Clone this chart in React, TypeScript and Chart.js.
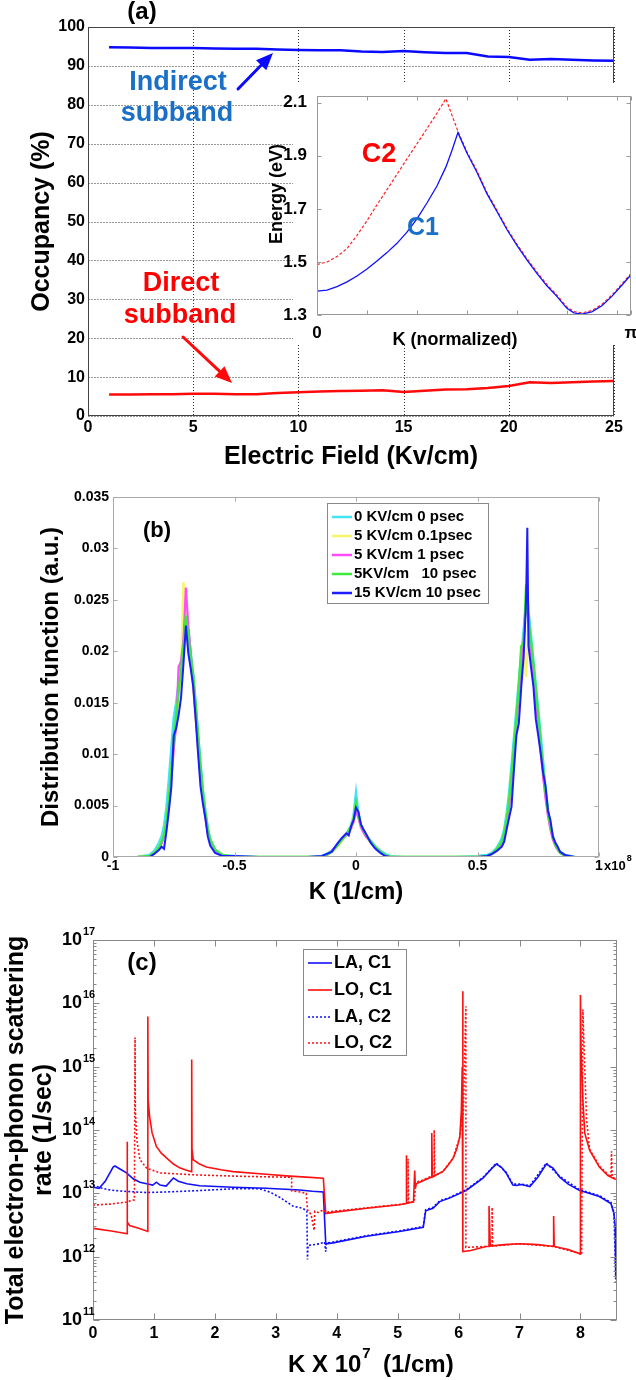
import React, { useEffect, useRef } from 'react';
import { Chart, registerables } from 'chart.js';

Chart.register(...registerables);

const FONT = '"Liberation Sans", Arial, Helvetica, sans-serif';
Chart.defaults.font.family = FONT;
const f = (size: number, lh = 1) => ({ family: FONT, size, weight: 'bold' as const, lineHeight: lh });

// ---------------- Panel (a) data ----------------
const fieldA = [1, 2, 3, 4, 5, 6, 7, 8, 9, 10, 11, 12, 13, 14, 15, 16, 17, 18, 19, 20, 21, 22, 23, 24, 25];
const indirectA = [94.8, 94.7, 94.6, 94.6, 94.6, 94.5, 94.4, 94.4, 94.2, 94.1, 94.0, 94.0, 93.7, 93.6, 93.8, 93.5, 93.3, 93.3, 92.4, 92.3, 91.6, 91.8, 91.6, 91.4, 91.3];
const directA = [5.5, 5.5, 5.6, 5.6, 5.7, 5.7, 5.6, 5.6, 5.9, 6.1, 6.3, 6.4, 6.5, 6.6, 6.2, 6.5, 6.8, 6.9, 7.2, 7.7, 8.7, 8.5, 8.7, 8.9, 9.0];
const ticksAX = [0, 5, 10, 15, 20, 25];
const ticksAY = [0, 10, 20, 30, 40, 50, 60, 70, 80, 90, 100];

// ---------------- Inset data ----------------
const kInset = [0, 0.1, 0.2, 0.3, 0.4, 0.5, 0.6, 0.7, 0.8, 0.9, 1.0, 1.1, 1.2, 1.29, 1.35, 1.41, 1.5, 1.6, 1.7, 1.8, 1.9, 2.0, 2.1, 2.2, 2.3, 2.4, 2.5, 2.57, 2.65, 2.75, 2.85, 2.95, 3.05, 3.1416];
const energyC1 = [1.39, 1.394, 1.407, 1.425, 1.447, 1.473, 1.503, 1.535, 1.57, 1.612, 1.662, 1.722, 1.786, 1.858, 1.92, 1.987, 1.91, 1.838, 1.757, 1.69, 1.622, 1.562, 1.508, 1.457, 1.41, 1.37, 1.325, 1.308, 1.303, 1.312, 1.335, 1.37, 1.412, 1.452];
const energyC2 = [1.49, 1.5, 1.52, 1.55, 1.6, 1.655, 1.715, 1.772, 1.83, 1.888, 1.945, 2.002, 2.06, 2.115, 2.053, 1.992, 1.915, 1.843, 1.762, 1.695, 1.627, 1.567, 1.513, 1.462, 1.415, 1.375, 1.33, 1.313, 1.308, 1.317, 1.34, 1.375, 1.417, 1.457];
const ticksInsetX = [0, 0.5, 1, 1.5, 2, 2.5, 3, Math.PI];
const ticksInsetY = [1.3, 1.5, 1.7, 1.9, 2.1];

// ---------------- Panel (b) data ----------------
const kB = [
  -0.90, -0.85, -0.83, -0.81, -0.80,
  -0.79, -0.78, -0.77, -0.76, -0.75, -0.74, -0.73, -0.72, -0.71, -0.70,
  -0.69, -0.68, -0.67, -0.66, -0.65, -0.64, -0.63, -0.62, -0.61, -0.60,
  -0.58, -0.55, -0.50, -0.40, -0.30, -0.20,
  -0.14, -0.12, -0.10, -0.08, -0.06, -0.04,
  -0.03, -0.02, -0.01, 0, 0.01, 0.02, 0.03,
  0.04, 0.06, 0.08, 0.10, 0.12, 0.14,
  0.20, 0.30, 0.40, 0.50, 0.54, 0.56, 0.58,
  0.60, 0.61, 0.62, 0.63, 0.64, 0.65, 0.66, 0.67, 0.68, 0.69, 0.70,
  0.705, 0.71, 0.72, 0.73, 0.74, 0.75, 0.76, 0.77,
  0.78, 0.79, 0.80, 0.81, 0.82, 0.83, 0.84,
  0.86, 0.88, 0.90,
];
const distCyan = [
  0, 0.0002, 0.0006, 0.0014, 0.002,
  0.003, 0.0048, 0.0075, 0.0105, 0.0135, 0.015, 0.0168, 0.019, 0.021, 0.024,
  0.022, 0.0198, 0.0175, 0.0148, 0.0118, 0.009, 0.0064, 0.0044, 0.0027, 0.0017,
  0.0007, 0.0002, 0.0001, 0, 0, 0,
  0.0001, 0.0003, 0.0006, 0.001, 0.0016, 0.0022,
  0.0026, 0.0031, 0.004, 0.0062, 0.0042, 0.0031, 0.0026,
  0.0021, 0.0016, 0.001, 0.0006, 0.0003, 0.0001,
  0, 0, 0, 0.0001, 0.0002, 0.0004, 0.0009,
  0.0018, 0.0027, 0.0042, 0.0062, 0.0088, 0.0115, 0.0142, 0.017, 0.0195, 0.022, 0.0245,
  0.0255, 0.0238, 0.0215, 0.019, 0.0166, 0.0142, 0.0118, 0.0092,
  0.0066, 0.0046, 0.003, 0.002, 0.0013, 0.0008, 0.0005,
  0.0002, 0.0001, 0,
];
const distYellow = [
  0, 0.0001, 0.0004, 0.001, 0.0015,
  0.0022, 0.0035, 0.0055, 0.008, 0.011, 0.013, 0.0155, 0.018, 0.0267, 0.0232,
  0.021, 0.019, 0.0165, 0.0135, 0.0105, 0.008, 0.0058, 0.004, 0.0024, 0.0015,
  0.0006, 0.0002, 0, 0, 0, 0,
  0, 0.0002, 0.0005, 0.0009, 0.0015, 0.0021,
  0.0025, 0.003, 0.0038, 0.005, 0.004, 0.003, 0.0025,
  0.002, 0.0014, 0.0009, 0.0005, 0.0002, 0,
  0, 0, 0, 0, 0.0001, 0.0003, 0.0007,
  0.0014, 0.0022, 0.0035, 0.0052, 0.0075, 0.0102, 0.013, 0.0158, 0.0185, 0.0205, 0.0175,
  0.02, 0.0225, 0.0205, 0.018, 0.0155, 0.013, 0.0105, 0.0082,
  0.006, 0.0042, 0.0028, 0.0018, 0.0011, 0.0007, 0.0004,
  0.0002, 0, 0,
];
const distMagenta = [
  0, 0.0001, 0.0004, 0.0009, 0.0013,
  0.002, 0.0032, 0.005, 0.0075, 0.0105, 0.0128, 0.0185, 0.019, 0.021, 0.0262,
  0.0225, 0.0198, 0.0168, 0.0138, 0.0108, 0.0078, 0.0055, 0.0038, 0.0023, 0.0014,
  0.0006, 0.0001, 0, 0, 0, 0,
  0, 0.0002, 0.0006, 0.0011, 0.0017, 0.0021,
  0.0024, 0.0028, 0.0034, 0.0045, 0.0038, 0.0029, 0.0024,
  0.002, 0.0015, 0.0009, 0.0005, 0.0002, 0,
  0, 0, 0, 0, 0.0001, 0.0003, 0.0007,
  0.0013, 0.002, 0.0032, 0.0048, 0.0072, 0.0098, 0.0128, 0.0158, 0.0178, 0.021, 0.025,
  0.0242, 0.0228, 0.02, 0.0175, 0.015, 0.0128, 0.0102, 0.0078,
  0.0057, 0.004, 0.0027, 0.0017, 0.0011, 0.0007, 0.0004,
  0.0001, 0, 0,
];
const distGreen = [
  0, 0.0001, 0.0004, 0.001, 0.0015,
  0.0022, 0.0036, 0.0058, 0.0085, 0.0115, 0.0138, 0.016, 0.0182, 0.0205, 0.0235,
  0.0215, 0.0195, 0.0178, 0.015, 0.012, 0.009, 0.0064, 0.0044, 0.0028, 0.0017,
  0.0007, 0.0002, 0, 0, 0, 0,
  0, 0.0002, 0.0005, 0.001, 0.0016, 0.0022,
  0.0026, 0.003, 0.0037, 0.0053, 0.0041, 0.0031, 0.0027,
  0.0022, 0.0015, 0.001, 0.0005, 0.0002, 0,
  0, 0, 0, 0, 0.0001, 0.0003, 0.0008,
  0.0015, 0.0024, 0.0037, 0.0055, 0.008, 0.0108, 0.0136, 0.0166, 0.0205, 0.0208, 0.0265,
  0.024, 0.0232, 0.021, 0.0188, 0.0163, 0.0138, 0.0112, 0.0087,
  0.0063, 0.0044, 0.003, 0.002, 0.0012, 0.0008, 0.0004,
  0.0001, 0, 0,
];
const distBlue = [
  0, 0, 0.0003, 0.0007, 0.001,
  0.0008, 0.0025, 0.0045, 0.0068, 0.0118, 0.0125, 0.0138, 0.0155, 0.0188, 0.0225,
  0.0198, 0.0183, 0.0166, 0.0135, 0.0101, 0.0069, 0.0052, 0.0038, 0.002, 0.0011,
  0.0004, 0.0001, 0.0001, 0, 0, 0,
  0.0001, 0.0003, 0.0005, 0.0012, 0.0018, 0.0023,
  0.0021, 0.003, 0.0036, 0.0048, 0.0044, 0.0032, 0.0027,
  0.0023, 0.0014, 0.0008, 0.0004, 0.0001, 0,
  0, 0, 0, 0, 0.0001, 0.0003, 0.0006,
  0.001, 0.0015, 0.0027, 0.0038, 0.0049, 0.0085, 0.0118, 0.013, 0.0165, 0.0195, 0.025,
  0.032, 0.0205, 0.0185, 0.0166, 0.0134, 0.0118, 0.0101, 0.0082,
  0.0069, 0.0045, 0.0036, 0.002, 0.0014, 0.001, 0.0005,
  0.0002, 0.0001, 0,
];
const legendB = ['0 KV/cm 0 psec', '5 KV/cm 0.1psec', '5 KV/cm 1 psec', '5KV/cm   10 psec', '15 KV/cm 10 psec'];
const colorsB = ['#44e4f2', '#f6f66a', '#ff4cff', '#3ee83e', '#1c1cff'];
const ticksBX = [-1, -0.5, 0, 0.5, 1];
const ticksBY = [0, 0.005, 0.01, 0.015, 0.02, 0.025, 0.03, 0.035];

// ---------------- Panel (c) data ----------------
const kLAC1 = [
  0, 0.1, 0.2, 0.33, 0.36, 0.45, 0.55, 0.66, 0.77, 0.88,
  0.98, 1.04, 1.1, 1.2, 1.32, 1.4, 1.54, 1.75, 2.3, 2.84,
  3.39, 3.6, 3.78, 3.82, 3.94, 4.49, 5.03, 5.42, 5.46, 5.58,
  5.69, 5.85, 6.13, 6.4, 6.55, 6.62, 6.7, 6.78, 6.89, 6.95,
  7.03, 7.17, 7.3, 7.44, 7.55, 7.66, 7.8, 7.98, 8.31, 8.5,
  8.55, 8.57, 8.58,
];
const rateLAC1 = [
  1.25e13, 1.2e13, 1.55e13, 2.6e13, 2.7e13, 2.4e13, 2.1e13, 1.7e13, 1.5e13, 1.42e13,
  1.35e13, 1.5e13, 1.35e13, 1.3e13, 1.75e13, 1.55e13, 1.42e13, 1.32e13, 1.25e13, 1.2e13,
  1.13e13, 1.08e13, 1.05e13, 1.6e12, 1.65e12, 2.1e12, 2.5e12, 2.9e12, 5.3e12, 5.8e12,
  7.4e12, 8.4e12, 1.12e13, 1.73e13, 2.5e13, 2.9e13, 2.6e13, 2.1e13, 1.35e13, 1.33e13,
  1.38e13, 1.28e13, 1.8e13, 2.9e13, 2.5e13, 1.8e13, 1.4e13, 1.12e13, 8.9e12, 6.9e12,
  4.8e12, 3e12, 5e11,
];
const kLOC1 = [
  0, 0.3, 0.56, 0.56, 0.565, 0.6, 0.75, 0.9, 0.9, 0.905,
  0.93, 0.97, 1.04, 1.12, 1.21, 1.32, 1.43, 1.55, 1.62, 1.62,
  1.625, 1.645, 1.75, 1.86, 2.1, 2.3, 2.84, 3.23, 3.5, 3.78,
  3.82, 3.94, 4.49, 5.03, 5.14, 5.14, 5.15, 5.26, 5.28, 5.29,
  5.3, 5.36, 5.55, 5.56, 5.57, 5.65, 5.74, 5.83, 5.91, 5.97,
  6.02, 6.045, 6.06, 6.07, 6.07, 6.2, 6.45, 6.5, 6.5, 6.52,
  6.75, 7.0, 7.3, 7.56, 7.56, 7.57, 7.8, 8.0, 8.0, 8.01,
  8.04, 8.07, 8.15, 8.31, 8.45, 8.58,
];
const rateLOC1 = [
  2.8e12, 2.55e12, 2.3e12, 6.5e13, 3.5e12, 3.1e12, 2.8e12, 2.5e12, 6.2e15, 3e14,
  1.6e14, 9e13, 5.5e13, 4.3e13, 3.6e13, 2.9e13, 2.5e13, 2.3e13, 2.2e13, 1.3e15,
  5e13, 3.4e13, 2.9e13, 2.6e13, 2.35e13, 2.2e13, 2.0e13, 1.87e13, 1.8e13, 1.73e13,
  4.8e12, 5.0e12, 5.8e12, 6.6e12, 6.9e12, 4e13, 7e12, 7.3e12, 2.3e13, 1.3e13,
  1.4e13, 1.5e13, 1.8e13, 9e13, 1.8e13, 2.0e13, 2.2e13, 2.8e13, 3.6e13, 5e13,
  7.8e13, 2e14, 1e15, 1.55e16, 1.2e12, 1.25e12, 1.45e12, 1.45e12, 6.3e12, 1.47e12,
  1.55e12, 1.6e12, 1.55e12, 1.45e12, 4.4e12, 1.45e12, 1.3e12, 1.1e12, 1.35e16, 2e15,
  3e14, 9e13, 4.8e13, 2.6e13, 1.9e13, 1.65e13,
];
const kLAC2 = [
  0, 0.15, 0.3, 0.55, 0.88, 1.2, 1.7, 2.3, 2.73, 2.9,
  3.07, 3.28, 3.44, 3.51, 3.52, 3.53, 3.72, 3.8, 3.82, 3.83,
  3.94, 4.49, 5.03, 5.42, 5.46, 5.58, 5.69, 5.85, 6.13, 6.4,
  6.62, 6.78, 6.89, 7.03, 7.17, 7.44, 7.66, 7.98, 8.31, 8.5,
  8.55, 8.58,
];
const rateLAC2 = [
  1.35e13, 1.2e13, 1.12e13, 1.07e13, 1.03e13, 1.05e13, 1.1e13, 1.18e13, 1.18e13, 1.05e13,
  8.6e12, 6.3e12, 5.8e12, 5.3e12, 9e11, 1.5e12, 1.6e12, 1.7e12, 1.2e12, 1.65e12,
  1.7e12, 2.15e12, 2.55e12, 3e12, 5.5e12, 6e12, 7.6e12, 8.6e12, 1.15e13, 1.78e13,
  3e13, 2.15e13, 1.4e13, 1.4e13, 1.32e13, 3e13, 1.85e13, 1.15e13, 9.2e12, 7.2e12,
  5e12, 4e11,
];
const kLOC2 = [
  0, 0.3, 0.55, 0.68, 0.69, 0.695, 0.72, 0.77, 0.88, 1.1,
  1.7, 2.5, 3.17, 3.26, 3.26, 3.4, 3.5, 3.52, 3.58, 3.63,
  3.64, 3.7, 3.78, 3.82, 3.94, 4.49, 5.03, 5.17, 5.17, 5.18,
  5.27, 5.3, 5.36, 5.55, 5.6, 5.6, 5.61, 5.74, 5.91, 6.02,
  6.08, 6.1, 6.12, 6.12, 6.45, 6.55, 6.55, 6.56, 7.0, 7.56,
  8.02, 8.04, 8.06, 8.1, 8.15, 8.31, 8.5, 8.51, 8.52, 8.58,
];
const rateLOC2 = [
  6.5e12, 6.8e12, 7.3e12, 7.9e12, 2.9e15, 2e14, 6.9e13, 3.4e13, 2.5e13, 2.1e13,
  1.95e13, 1.85e13, 1.8e13, 1.8e13, 1.1e13, 1.05e13, 1.0e13, 5.5e12, 4.6e12, 2.6e12,
  5.2e12, 5.0e12, 5.5e12, 5.0e12, 5.2e12, 5.9e12, 6.7e12, 7e12, 3.5e13, 7.1e12,
  7.4e12, 1.5e13, 1.55e13, 1.85e13, 1.9e13, 1e14, 1.9e13, 2.2e13, 3.6e13, 7.8e13,
  2e14, 1.5e15, 9e15, 1.4e12, 1.45e12, 1.47e12, 6e12, 1.47e12, 1.6e12, 1.45e12,
  1.1e12, 8e15, 2e15, 1.5e14, 5e13, 2.7e13, 1.8e13, 4.6e13, 1.8e13, 1.7e13,
];
const legendC = ['LA, C1', 'LO, C1', 'LA, C2', 'LO, C2'];
const ticksCX = [0, 1, 2, 3, 4, 5, 6, 7, 8];
const ticksCY = [1e11, 1e12, 1e13, 1e14, 1e15, 1e16, 1e17];

// ---------------- helpers ----------------
const zip = (xs: number[], ys: number[]) => xs.map((x, i) => ({ x, y: ys[i] }));
const fixX = (h: number) => (s: any) => { s.height = h; s.paddingLeft = 0; s.paddingRight = 0; s.paddingTop = 0; s.paddingBottom = 0; };
const fixY = (w: number) => (s: any) => { s.width = w; s.paddingLeft = 0; s.paddingRight = 0; s.paddingTop = 0; s.paddingBottom = 0; };
const setTicks = (vals: number[]) => (s: any) => { s.ticks = vals.map((v) => ({ value: v })); };

type T = { t: string; x: number; y: number; s: number; c?: string; a?: CanvasTextAlign; r?: number };
function drawTexts(ctx: CanvasRenderingContext2D, items: T[]) {
  for (const it of items) {
    ctx.save();
    ctx.translate(it.x, it.y);
    if (it.r) ctx.rotate(it.r);
    ctx.font = `bold ${it.s}px ${FONT}`;
    ctx.fillStyle = it.c || '#000';
    ctx.textAlign = it.a || 'center';
    ctx.textBaseline = 'middle';
    ctx.fillText(it.t, 0, 0);
    ctx.restore();
  }
}
function arrow(ctx: CanvasRenderingContext2D, x1: number, y1: number, x2: number, y2: number, color: string, w: number, head: number) {
  const a = Math.atan2(y2 - y1, x2 - x1);
  const c = Math.cos(a), s = Math.sin(a);
  ctx.save();
  ctx.strokeStyle = color; ctx.fillStyle = color; ctx.lineWidth = w; ctx.lineCap = 'round';
  ctx.beginPath(); ctx.moveTo(x1, y1); ctx.lineTo(x2 - head * 0.8 * c, y2 - head * 0.8 * s); ctx.stroke();
  ctx.beginPath();
  ctx.moveTo(x2, y2);
  ctx.lineTo(x2 - head * c + head * 0.42 * s, y2 - head * s - head * 0.42 * c);
  ctx.lineTo(x2 - head * c - head * 0.42 * s, y2 - head * s + head * 0.42 * c);
  ctx.closePath(); ctx.fill();
  ctx.restore();
}
function drawLegend(ctx: CanvasRenderingContext2D, box: number[], labels: string[], colors: string[], dashes: (number[] | null)[], rows: number[], lx: number[], tx: number, size: number, lw: number) {
  ctx.save();
  ctx.fillStyle = '#fff';
  ctx.fillRect(box[0], box[1], box[2] - box[0], box[3] - box[1]);
  ctx.strokeStyle = '#888'; ctx.lineWidth = 1;
  ctx.strokeRect(box[0] + 0.5, box[1] + 0.5, box[2] - box[0], box[3] - box[1]);
  labels.forEach((lab, i) => {
    ctx.strokeStyle = colors[i]; ctx.lineWidth = lw;
    ctx.setLineDash(dashes[i] || []);
    ctx.beginPath(); ctx.moveTo(lx[0], rows[i]); ctx.lineTo(lx[1], rows[i]); ctx.stroke();
    ctx.setLineDash([]);
    ctx.font = `bold ${size}px ${FONT}`; ctx.fillStyle = '#000'; ctx.textAlign = 'left'; ctx.textBaseline = 'middle';
    ctx.fillText(lab, tx, rows[i]);
  });
  ctx.restore();
}
function gridPlugin(color: string) {
  return {
    id: 'dotgrid',
    beforeDatasetsDraw(chart: any) {
      const { ctx, chartArea: a, scales } = chart;
      ctx.save();
      ctx.strokeStyle = color; ctx.lineWidth = 1; ctx.setLineDash([1, 2]);
      ctx.beginPath();
      for (const t of scales.x.ticks) {
        const p = Math.round(scales.x.getPixelForValue(t.value)) + 0.5;
        ctx.moveTo(p, a.top); ctx.lineTo(p, a.bottom);
      }
      ctx.stroke();
      ctx.beginPath();
      for (const t of scales.y.ticks) {
        const p = Math.round(scales.y.getPixelForValue(t.value)) + 0.5;
        ctx.moveTo(a.left + 0.5, p); ctx.lineTo(a.right, p);
      }
      ctx.stroke();
      ctx.restore();
    },
  };
}
function framePlugin(o: { color: string; width: number; tick: number; minor?: number; logRange?: number[] }) {
  return {
    id: 'frame',
    afterDatasetsDraw(chart: any) {
      const { ctx, chartArea: a, scales } = chart;
      const L = Math.round(a.left) + 0.5, R = Math.round(a.right) - 0.5, Tp = Math.round(a.top) + 0.5, B = Math.round(a.bottom) - 0.5;
      ctx.save();
      ctx.strokeStyle = o.color; ctx.lineWidth = o.width;
      ctx.beginPath();
      if (o.tick > 0) {
        for (const t of scales.x.ticks) {
          const p = Math.round(scales.x.getPixelForValue(t.value)) + 0.5;
          ctx.moveTo(p, B); ctx.lineTo(p, B - o.tick); ctx.moveTo(p, Tp); ctx.lineTo(p, Tp + o.tick);
        }
        for (const t of scales.y.ticks) {
          const p = Math.round(scales.y.getPixelForValue(t.value)) + 0.5;
          ctx.moveTo(L, p); ctx.lineTo(L + o.tick, p); ctx.moveTo(R, p); ctx.lineTo(R - o.tick, p);
        }
      }
      if (o.logRange && o.minor) {
        for (let e = o.logRange[0]; e < o.logRange[1]; e++) {
          for (let m = 2; m <= 9; m++) {
            const p = Math.round(scales.y.getPixelForValue(m * Math.pow(10, e))) + 0.5;
            ctx.moveTo(L, p); ctx.lineTo(L + o.minor, p); ctx.moveTo(R, p); ctx.lineTo(R - o.minor, p);
          }
        }
      }
      ctx.stroke();
      ctx.strokeRect(L, Tp, R - L, B - Tp);
      ctx.restore();
    },
  };
}
const baseOpts = (pad: any) => ({
  responsive: false,
  animation: false,
  devicePixelRatio: 1,
  events: [],
  layout: { padding: pad },
  plugins: { legend: { display: false }, tooltip: { enabled: false }, title: { display: false } },
});
const line = (label: string, data: any[], color: string, width: number, extra: any = {}) => ({
  label, data, borderColor: color, backgroundColor: color, borderWidth: width, pointRadius: 0, tension: 0, fill: false, ...extra,
});

// ---------------- configs ----------------
function cfgA() {
  return {
    type: 'line',
    data: {
      datasets: [
        line('Indirect subband', zip(fieldA, indirectA), '#0a0aff', 2.5),
        line('Direct subband', zip(fieldA, directA), '#ff0a0a', 2.5),
      ],
    },
    options: {
      ...baseOpts({ left: 0, right: 22, top: 27, bottom: 0 }),
      scales: {
        x: {
          type: 'linear', min: 0, max: 25, afterFit: fixX(54), afterBuildTicks: setTicks(ticksAX),
          ticks: { color: '#000', font: f(16), padding: 4, maxRotation: 0, autoSkip: false },
          grid: { display: false, drawTicks: false }, border: { display: false },
          title: { display: true, text: 'Electric Field (Kv/cm)', color: '#000', font: f(25), padding: { top: 0, bottom: 0 } },
        },
        y: {
          type: 'linear', min: 0, max: 100, afterFit: fixY(88), afterBuildTicks: setTicks(ticksAY),
          ticks: { color: '#000', font: f(16), padding: 3, autoSkip: false },
          grid: { display: false, drawTicks: false }, border: { display: false },
          title: { display: true, text: 'Occupancy (%)', color: '#000', font: f(25), padding: { top: 29.5, bottom: 0 } },
        },
      },
    },
    plugins: [
      gridPlugin('#333'),
      framePlugin({ color: '#444', width: 1, tick: 0 }),
      {
        id: 'decoA',
        afterDraw(chart: any) {
          const ctx = chart.ctx;
          drawTexts(ctx, [
            { t: '(a)', x: 142, y: 12, s: 24 },
            { t: 'Indirect', x: 178, y: 83, s: 27, c: '#1a6fc6' },
            { t: 'subband', x: 177, y: 114, s: 27, c: '#1a6fc6' },
            { t: 'Direct', x: 181, y: 284, s: 27, c: '#ff0000' },
            { t: 'subband', x: 180, y: 316, s: 27, c: '#ff0000' },
          ]);
          arrow(ctx, 238, 89, 273, 53, '#0a0aff', 3, 17);
          arrow(ctx, 183, 337, 232, 383, '#ff0a0a', 3, 17);
        },
      },
    ],
  };
}

function cfgInset() {
  return {
    type: 'line',
    data: {
      datasets: [
        line('C1', zip(kInset, energyC1), '#1010ff', 1.3),
        line('C2', zip(kInset, energyC2), '#ff2020', 1.2, { borderDash: [3, 2] }),
      ],
    },
    options: {
      ...baseOpts({ left: 0, right: 5, top: 13, bottom: 0 }),
      scales: {
        x: {
          type: 'linear', min: 0, max: Math.PI, afterFit: fixX(43), afterBuildTicks: setTicks(ticksInsetX),
          ticks: {
            color: '#000', font: f(17), padding: 9.5, maxRotation: 0, autoSkip: false,
            callback: (v: number) => (v === 0 ? '0' : Math.abs(v - Math.PI) < 1e-6 ? 'π' : ''),
          },
          grid: { display: false, drawTicks: false }, border: { display: false },
        },
        y: {
          type: 'linear', min: 1.3, max: 2.125, afterFit: fixY(55), afterBuildTicks: setTicks(ticksInsetY),
          ticks: { color: '#000', font: f(17), padding: 10, autoSkip: false, callback: (v: number) => v.toFixed(1) },
          grid: { display: false, drawTicks: false }, border: { display: false },
        },
      },
    },
    plugins: [
      {
        id: 'bg',
        beforeDraw(chart: any) {
          const ctx = chart.ctx;
          ctx.save(); ctx.fillStyle = '#fff'; ctx.fillRect(31, 0, 343, 262); ctx.restore();
        },
      },
      framePlugin({ color: '#999', width: 1, tick: 4 }),
      {
        id: 'decoI',
        afterDraw(chart: any) {
          drawTexts(chart.ctx, [
            { t: 'Energy (eV)', x: 15, y: 111, s: 18, r: -Math.PI / 2 },
            { t: 'K (normalized)', x: 193, y: 257, s: 18 },
            { t: 'C2', x: 117, y: 72, s: 27, c: '#ff0000' },
            { t: 'C1', x: 161, y: 145, s: 25, c: '#1a6fc6' },
          ]);
        },
      },
    ],
  };
}

function cfgB() {
  const series = [distCyan, distYellow, distMagenta, distGreen, distBlue];
  const orders = [4, 3, 2, 1, 0];
  const widths = [2.6, 2.4, 2.2, 2.4, 2];
  return {
    type: 'line',
    data: {
      datasets: series.map((s, i) => line(legendB[i], zip(kB, s), colorsB[i], widths[i], { order: orders[i] })),
    },
    options: {
      ...baseOpts({ left: 0, right: 37, top: 27, bottom: 0 }),
      scales: {
        x: {
          type: 'linear', min: -1, max: 1, afterFit: fixX(53), afterBuildTicks: setTicks(ticksBX),
          ticks: { color: '#000', font: f(14), padding: 2, maxRotation: 0, autoSkip: false, callback: (v: number) => String(v) },
          grid: { display: false, drawTicks: false }, border: { display: false },
          title: { display: true, text: 'K (1/cm)', color: '#000', font: f(24), padding: { top: 0, bottom: 6 } },
        },
        y: {
          type: 'linear', min: 0, max: 0.035, afterFit: fixY(113), afterBuildTicks: setTicks(ticksBY),
          ticks: { color: '#000', font: f(14), padding: 4, autoSkip: false, callback: (v: number) => (v === 0 ? '0' : String(+v.toFixed(3))) },
          grid: { display: false, drawTicks: false }, border: { display: false },
          title: { display: true, text: 'Distribution function (a.u.)', color: '#000', font: f(24), padding: { top: 39, bottom: 0 } },
        },
      },
    },
    plugins: [
      framePlugin({ color: '#aaa', width: 1, tick: 4 }),
      {
        id: 'decoB',
        afterDraw(chart: any) {
          const ctx = chart.ctx;
          const a = chart.chartArea;
          drawTexts(ctx, [{ t: '(b)', x: 157, y: 61, s: 22 }]);
          drawLegend(ctx, [327, 33, 488, 133], legendB, colorsB, [null, null, null, null, null], [47, 66, 85, 104, 123], [332, 352], 354, 15, 2.5);
          const px = chart.scales.x.getPixelForValue(1);
          const ly = a.bottom + 9;
          ctx.save();
          ctx.font = `bold 13px ${FONT}`; ctx.fillStyle = '#000'; ctx.textAlign = 'left'; ctx.textBaseline = 'middle';
          ctx.fillText('x10', px + 5, ly);
          const w = ctx.measureText('x10').width;
          ctx.font = `bold 9px ${FONT}`;
          ctx.fillText('8', px + 5 + w + 1, ly - 7);
          ctx.restore();
        },
      },
    ],
  };
}

function cfgC() {
  const colorsC = ['#1010ff', '#ff1010', '#1010ff', '#ff1010'];
  const dashC: (number[] | null)[] = [null, null, [2, 2], [2, 2]];
  return {
    type: 'line',
    data: {
      datasets: [
        line(legendC[0], zip(kLAC1, rateLAC1), colorsC[0], 1.6, { order: 2 }),
        line(legendC[1], zip(kLOC1, rateLOC1), colorsC[1], 1.6, { order: 0 }),
        line(legendC[2], zip(kLAC2, rateLAC2), colorsC[2], 1.6, { order: 3, borderDash: [2, 2] }),
        line(legendC[3], zip(kLOC2, rateLOC2), colorsC[3], 1.6, { order: 1, borderDash: [2, 2] }),
      ],
    },
    options: {
      ...baseOpts({ left: 0, right: 19, top: 30, bottom: 0 }),
      scales: {
        x: {
          type: 'linear', min: 0, max: 8.6, afterFit: fixX(60), afterBuildTicks: setTicks(ticksCX),
          ticks: { color: '#000', font: f(16), padding: 6, maxRotation: 0, autoSkip: false, callback: (v: number) => String(v) },
          grid: { display: false, drawTicks: false }, border: { display: false },
        },
        y: {
          type: 'logarithmic', min: 1e11, max: 1e17, afterFit: fixY(93), afterBuildTicks: setTicks(ticksCY),
          ticks: { color: '#000', font: f(18), padding: 11, autoSkip: false, callback: () => '10' },
          grid: { display: false, drawTicks: false }, border: { display: false },
          title: {
            display: true, text: ['Total electron-phonon scattering', 'rate (1/sec)'], color: '#000',
            font: f(25, 1.12), padding: { top: 2, bottom: 0 },
          },
        },
      },
    },
    plugins: [
      framePlugin({ color: '#888', width: 1, tick: 6, minor: 3, logRange: [11, 17] }),
      {
        id: 'decoC',
        afterDraw(chart: any) {
          const ctx = chart.ctx;
          const a = chart.chartArea;
          drawTexts(ctx, [{ t: '(c)', x: 142, y: 53, s: 24 }]);
          drawLegend(ctx, [303, 39, 406, 145], legendC, colorsC, dashC, [53, 80, 107, 133], [308, 332], 334, 18, 1.6);
          ctx.save();
          ctx.fillStyle = '#000'; ctx.textAlign = 'left'; ctx.textBaseline = 'middle';
          ctx.font = `bold 11px ${FONT}`;
          for (const v of ticksCY) {
            const py = chart.scales.y.getPixelForValue(v);
            ctx.fillText(String(Math.round(Math.log10(v))), a.left - 10, py - 8);
          }
          ctx.font = `bold 24px ${FONT}`;
          ctx.fillText('K X 10', 288, 455);
          const w = ctx.measureText('K X 10').width;
          ctx.font = `bold 15px ${FONT}`;
          ctx.fillText('7', 288 + w + 1, 444);
          ctx.font = `bold 24px ${FONT}`;
          ctx.fillText('(1/cm)', 383, 455);
          ctx.restore();
        },
      },
    ],
  };
}

function CanvasChart({ x, y, w, h, make }: { x: number; y: number; w: number; h: number; make: () => any }) {
  const ref = useRef<HTMLCanvasElement | null>(null);
  useEffect(() => {
    if (!ref.current) return;
    const chart = new Chart(ref.current, make());
    return () => chart.destroy();
  }, [make]);
  return <canvas ref={ref} width={w} height={h} style={{ position: 'absolute', left: x, top: y, width: w, height: h }} />;
}

export default function App() {
  return (
    <div style={{ position: 'absolute', left: 0, top: 0, width: 636, height: 1380, background: '#fff', overflow: 'hidden' }}>
      <CanvasChart x={0} y={0} w={636} h={470} make={cfgA} />
      <CanvasChart x={262} y={83} w={374} h={275} make={cfgInset} />
      <CanvasChart x={0} y={470} w={636} h={440} make={cfgB} />
      <CanvasChart x={0} y={910} w={636} h={470} make={cfgC} />
    </div>
  );
}
